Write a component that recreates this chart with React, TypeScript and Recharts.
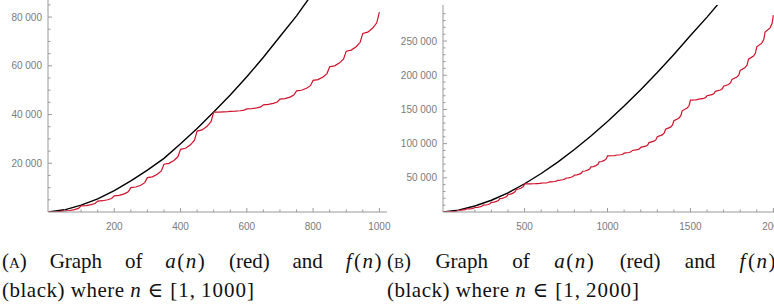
import React from 'react';
import { LineChart, Line, XAxis, YAxis } from 'recharts';

// f(n), black curve (A)
const blackA_n = [1, 50, 100, 150, 200, 250, 300, 350, 400, 450, 500, 550, 600, 650, 700, 750, 800];
const blackA_v = [20, 900, 2800, 5400, 8800, 12800, 17200, 22000, 28000, 34300, 41000, 48000, 55500, 63500, 72000, 80500, 90000];

// f(n), black curve (B)
const blackB_n = [1, 100, 200, 300, 400, 500, 600, 700, 800, 900, 1000, 1100, 1200, 1300, 1400, 1500, 1600, 1700];
const blackB_v = [20, 2800, 8800, 17200, 28000, 41300, 56300, 73000, 91300, 111100, 132300, 154900, 178800, 204000, 230400, 258000, 285000, 313500];

// a(n), red curve on [1, 1000] (scalloped steps every 50)
const redA_n = [1, 25, 50, 65, 80, 92, 100, 115, 130, 142, 150, 165, 180, 192, 200, 215, 230, 242, 250, 265, 280, 292, 300, 315, 330, 342, 350, 365, 380, 392, 400, 415, 430, 442, 450, 465, 480, 492, 500, 515, 530, 542, 550, 565, 580, 592, 600, 615, 630, 642, 650, 665, 680, 692, 700, 715, 730, 742, 750, 765, 780, 792, 800, 815, 830, 842, 850, 865, 880, 892, 900, 915, 930, 942, 950, 965, 980, 992, 1000];
const redA_v = [0, 100, 500, 620, 1000, 1500, 2500, 2620, 3000, 3500, 4500, 4630, 5030, 5550, 6600, 6800, 7450, 8300, 10000, 10250, 11000, 12050, 14100, 14430, 15480, 16850, 19600, 19970, 21130, 22650, 25700, 26150, 27580, 29450, 33200, 33670, 35150, 37100, 41000, 41020, 41080, 41150, 41300, 41360, 41550, 41800, 42300, 42400, 42730, 43150, 44000, 44140, 44580, 45150, 46300, 46500, 47150, 48000, 49700, 49960, 50780, 51850, 54000, 54340, 55400, 56800, 59600, 59980, 61200, 62800, 66000, 66440, 67830, 69650, 73300, 73820, 75480, 77650, 82000];

// a(n), red curve continued on (1000, 2000] for plot (B)
const redB_n = [1030, 1042, 1050, 1080, 1092, 1100, 1130, 1142, 1150, 1180, 1192, 1200, 1230, 1242, 1250, 1280, 1292, 1300, 1330, 1342, 1350, 1380, 1392, 1400, 1430, 1442, 1450, 1480, 1492, 1500, 1530, 1542, 1550, 1580, 1592, 1600, 1630, 1642, 1650, 1680, 1692, 1700, 1730, 1742, 1750, 1780, 1792, 1800, 1830, 1842, 1850, 1880, 1892, 1900, 1930, 1942, 1950, 1980, 1992, 2000];
const redB_v = [82250, 82500, 83000, 83750, 84500, 86000, 87000, 88000, 90000, 91100, 92250, 94500, 96250, 98000, 101500, 103600, 105750, 110000, 112750, 115500, 121000, 124100, 127250, 133500, 137100, 140750, 148000, 151900, 155750, 163500, 163900, 164250, 165000, 166250, 167500, 170000, 171600, 173250, 176500, 178400, 180250, 184000, 186500, 189000, 194000, 197250, 200500, 207000, 211100, 215250, 223500, 228000, 232500, 241500, 246900, 252250, 263000, 269250, 275500, 288000];

// ticks (majors get a label)
const xTicksA = [50, 100, 150, 200, 250, 300, 350, 400, 450, 500, 550, 600, 650, 700, 750, 800, 850, 900, 950, 1000];
const yTicksA = [5000, 10000, 15000, 20000, 25000, 30000, 35000, 40000, 45000, 50000, 55000, 60000, 65000, 70000, 75000, 80000, 85000];
const xTicksB = [100, 200, 300, 400, 500, 600, 700, 800, 900, 1000, 1100, 1200, 1300, 1400, 1500, 1600, 1700, 1800, 1900, 2000];
const yTicksB = [10000, 20000, 30000, 40000, 50000, 60000, 70000, 80000, 90000, 100000, 110000, 120000, 130000, 140000, 150000, 160000, 170000, 180000, 190000, 200000, 210000, 220000, 230000, 240000, 250000, 260000, 270000, 280000, 290000];

const AXIS = '#9a9a9a';
const LABEL = '#7a7a7a';
const RED = '#d0112b';
const SANS = '"Liberation Sans", Arial, sans-serif';
const SERIF = '"Liberation Serif", "DejaVu Serif", serif';

const pts = (ns: number[], vs: number[]) => ns.map((n, i) => ({ n, v: vs[i] }));

function fmt(v: number) {
  if (v < 10000) return String(v);
  return `${Math.floor(v / 1000)} ${String(v % 1000).padStart(3, '0')}`;
}

function XTick(props: any) {
  const { x, y, payload, major } = props;
  const isMajor = payload.value % major === 0;
  return (
    <g>
      <line x1={x} x2={x} y1={y} y2={y - (isMajor ? 4 : 2.5)} stroke={AXIS} />
      {isMajor && (
        <text x={x} y={y + 17.5} textAnchor="middle" fontSize={10} fill={LABEL} fontFamily={SANS}>
          {payload.value}
        </text>
      )}
    </g>
  );
}

function YTick(props: any) {
  const { x, y, payload, major } = props;
  const isMajor = payload.value % major === 0;
  return (
    <g>
      <line x1={x} x2={x + (isMajor ? 4 : 2.5)} y1={y} y2={y} stroke={AXIS} />
      {isMajor && (
        <text x={x - 6} y={y + 3.6} textAnchor="end" fontSize={10} fill={LABEL} fontFamily={SANS}>
          {fmt(payload.value)}
        </text>
      )}
    </g>
  );
}

function Plot({ xDomain, yDomain, xTicks, yTicks, xMajor, yMajor, top, black, red }: any) {
  return (
    <LineChart width={400} height={240} margin={{ top, right: 13, bottom: 0, left: 0 }}>
      <XAxis
        type="number"
        dataKey="n"
        domain={xDomain}
        allowDataOverflow
        ticks={xTicks}
        interval={0}
        height={28}
        tickSize={0}
        tickMargin={0}
        tickLine={false}
        axisLine={{ stroke: AXIS }}
        tick={<XTick major={xMajor} />}
      />
      <YAxis
        type="number"
        dataKey="v"
        domain={yDomain}
        allowDataOverflow
        ticks={yTicks}
        interval={0}
        width={48}
        tickSize={0}
        tickMargin={0}
        tickLine={false}
        axisLine={{ stroke: AXIS }}
        tick={<YTick major={yMajor} />}
      />
      <Line data={black} dataKey="v" type="linear" stroke="#000" strokeWidth={1.4} dot={false} isAnimationActive={false} />
      <Line data={red} dataKey="v" type="linear" stroke={RED} strokeWidth={1.2} dot={false} isAnimationActive={false} />
    </LineChart>
  );
}

// math in the caption is set a little wider, like TeX's italic
const MATH = { letterSpacing: 1.5 };

function Caption({ left, width, tag, range }: { left: number; width: number; tag: string; range: string }) {
  return (
    <div style={{ position: 'absolute', left, top: 247, width, fontFamily: SERIF, fontSize: 21, color: '#111' }}>
      <div style={{ display: 'flex', justifyContent: 'space-between', lineHeight: '29px', whiteSpace: 'nowrap' }}>
        <span style={{ fontVariant: 'small-caps' }}>({tag})</span>
        <span>Graph</span>
        <span>of</span>
        <span style={MATH}><i>a</i>(<i>n</i>)</span>
        <span>(red)</span>
        <span>and</span>
        <span style={MATH}><i style={{ marginRight: 1 }}>f</i>(<i>n</i>)</span>
      </div>
      <div style={{ lineHeight: '29px', whiteSpace: 'nowrap' }}>
        <span style={{ letterSpacing: 0.5 }}>(black) where </span>
        <i>n</i>
        <span style={{ margin: '0 7px' }}>∈</span>
        <span style={{ letterSpacing: 1 }}>[1,</span>
        <span style={{ marginLeft: 5, letterSpacing: 1 }}>{range}]</span>
      </div>
    </div>
  );
}

export default function App() {
  return (
    <div style={{ position: 'absolute', left: 0, top: 0, width: 774, height: 308, overflow: 'hidden', background: '#fff' }}>
      <div style={{ position: 'absolute', left: 0, top: 0 }}>
        <Plot
          xDomain={[0, 1023]}
          yDomain={[0, 87000]}
          xTicks={xTicksA}
          yTicks={yTicksA}
          xMajor={200}
          yMajor={20000}
          top={0}
          black={pts(blackA_n, blackA_v)}
          red={pts(redA_n, redA_v)}
        />
      </div>
      <div style={{ position: 'absolute', left: 395, top: 0 }}>
        <Plot
          xDomain={[8, 2052]}
          yDomain={[0, 302700]}
          xTicks={xTicksB}
          yTicks={yTicksB}
          xMajor={500}
          yMajor={50000}
          top={5}
          black={pts(blackB_n, blackB_v)}
          red={pts([...redA_n, ...redB_n], [...redA_v, ...redB_v])}
        />
      </div>
      <Caption left={2} width={381} tag="a" range="1000" />
      <Caption left={387} width={390} tag="b" range="2000" />
    </div>
  );
}
